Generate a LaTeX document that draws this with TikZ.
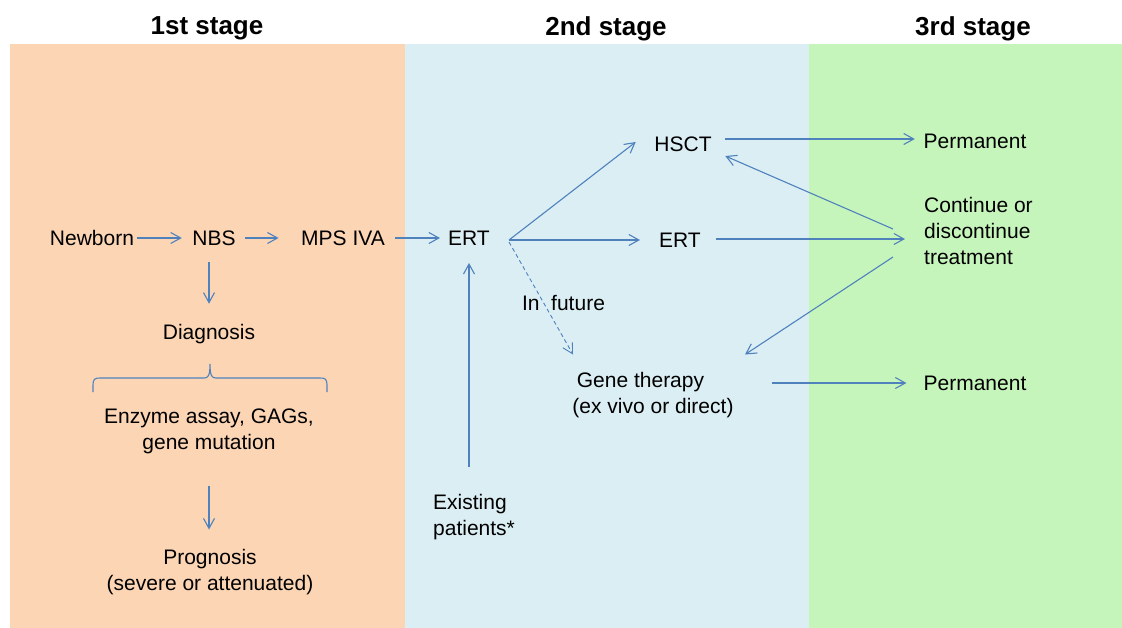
\documentclass[tikz,border=0pt]{standalone}
\usepackage{fontspec}
\setmainfont{Liberation Sans}
\usetikzlibrary{arrows.meta}
\definecolor{stageone}{HTML}{FCD5B5}
\definecolor{stagetwo}{HTML}{DBEEF4}
\definecolor{stagethree}{HTML}{C6F5BC}
\definecolor{arrowblue}{HTML}{4F81BD}

\begin{document}
\begin{tikzpicture}[x=1pt,y=1pt,
	txt/.style={inner sep=0pt,font=\fontsize{21}{26}\selectfont},
	head/.style={inner sep=0pt,font=\fontsize{26}{30}\selectfont\bfseries},
	arr/.style={draw=arrowblue,line width=1.1pt,-{Straight Barb[length=10pt,width=11pt]}}]
	\useasboundingbox (0,0) rectangle (1122,-628);
	% stage backgrounds
	\fill[stageone] (10,-44) rectangle (405,-628);
	\fill[stagetwo] (405,-44) rectangle (809,-628);
	\fill[stagethree] (809,-44) rectangle (1122,-628);
	\node[head](h1) at (207,-28.5){1st stage};
	\node[head](h2) at (606,-28.5){2nd stage};
	\node[head](h3) at (973,-28.5){3rd stage};
	% first stage
	\node[txt](nb) at (92,-238){Newborn};
	\node[txt](nbs) at (214,-238){NBS};
	\node[txt](mps) at (343,-238){MPS IVA};
	\node[txt](diag) at (209,-334){Diagnosis};
	\node[txt,align=center](enz) at (209,-431){Enzyme assay, GAGs,\\gene mutation};
	\node[txt,align=center](prog) at (210,-572){Prognosis\\(severe or attenuated)};
	% second stage
	\node[txt](ert) at (469,-238){ERT};
	\node[txt,align=left,anchor=west](exist) at (433,-517){Existing\\patients*};
	\node[txt](hsct) at (683,-144){HSCT};
	\node[txt](ert2) at (680,-240){ERT};
	\node[txt](fut) at (563.5,-303){In\ \ future};
	\node[txt,align=center](gene) at (653,-395){Gene therapy\hspace*{25pt}\\(ex vivo or direct)};
	% third stage
	\node[txt](perm1) at (975,-141){Permanent};
	\node[txt,align=left,anchor=west](cont) at (924,-231){Continue or\\discontinue\\treatment};
	\node[txt](perm2) at (975,-383){Permanent};
	% brace
	\draw[arrowblue,line width=1.1pt] (93,-392) -- (93,-385) .. controls (93,-379) and (95,-378) .. (100,-378)
		-- (204,-378) .. controls (208,-378) and (210,-376) .. (210,-364)
		.. controls (210,-376) and (212,-378) .. (216,-378) -- (320,-378)
		.. controls (325,-378) and (327,-379) .. (327,-385) -- (327,-392);
	% connectors
	\draw[arr,shorten <=3pt,shorten >=10.4pt] (nb) -- (nbs);
	\draw[arr,shorten <=9.4pt,shorten >=22.4pt] (nbs) -- (mps);
	\draw[arr,shorten <=10.4pt,shorten >=8pt] (mps) -- (ert);
	\draw[arr,shorten <=16.5pt,shorten >=20.3pt] (nbs.south -| diag.north) -- (diag.north);
	\draw[arr,shorten <=32pt,shorten >=19.5pt] (enz.south) -- (enz.south |- prog.north);
	\draw[arr,shorten <=27.5pt,shorten >=17.5pt] (exist.north -| ert.south) -- (ert.south);
	\draw[arr] ([xshift=19pt,yshift=-2pt]ert.east) -- ([xshift=-18.5pt,yshift=2pt]hsct.west);
	\draw[arr] ([xshift=19pt,yshift=-2pt]ert.east) -- ([xshift=-19pt]ert2.west);
	\draw[arr,line width=0.9pt,dash pattern=on 4pt off 3pt] ([xshift=19pt,yshift=-4pt]ert.east) -- ([xshift=-80pt,yshift=17.5pt]gene.north);
	\draw[arr] ([xshift=13.5pt,yshift=5pt]hsct.east) -- ([xshift=-8.6pt,yshift=2pt]perm1.west);
	\draw[arr] ([xshift=15pt,yshift=1pt]ert2.east) -- ([xshift=-19pt,yshift=-8pt]cont.west);
	\draw[arr] ([xshift=-31pt,yshift=2pt]cont.west) -- ([xshift=13.5pt,yshift=-12pt]hsct.east);
	\draw[arr] ([xshift=-31pt,yshift=-26pt]cont.west) -- ([xshift=92pt,yshift=17.5pt]gene.north);
	\draw[arr] ([xshift=38.5pt,yshift=12pt]gene.east) -- ([xshift=-17pt]perm2.west);
\end{tikzpicture}
\end{document}
